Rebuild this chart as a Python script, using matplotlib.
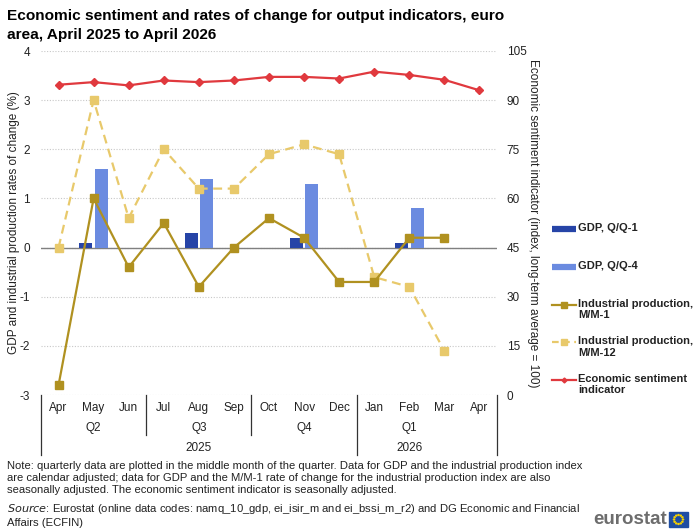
import numpy as np
import matplotlib.pyplot as plt
from matplotlib.lines import Line2D
from matplotlib.patches import Rectangle, Circle
from matplotlib.transforms import blended_transform_factory

plt.rcParams['font.family'] = ['Liberation Sans', 'DejaVu Sans']
plt.rcParams['axes.unicode_minus'] = False

#%% data
months = ['Apr', 'May', 'Jun', 'Jul', 'Aug', 'Sep', 'Oct', 'Nov', 'Dec', 'Jan', 'Feb', 'Mar', 'Apr']
quarters = ['Q2', 'Q3', 'Q4', 'Q1']
years = ['2025', '2026']
nan = np.nan
gdp_qq1 = [nan, 0.1, nan, nan, 0.3, nan, nan, 0.2, nan, nan, 0.1, nan, nan]
gdp_qq4 = [nan, 1.6, nan, nan, 1.4, nan, nan, 1.3, nan, nan, 0.8, nan, nan]
ip_mm1 = [-2.8, 1.0, -0.4, 0.5, -0.8, 0.0, 0.6, 0.2, -0.7, -0.7, 0.2, 0.2, nan]
ip_mm12 = [0.0, 3.0, 0.6, 2.0, 1.2, 1.2, 1.9, 2.1, 1.9, -0.6, -0.8, -2.1, nan]
esi = [94.7, 95.5, 94.5, 96.0, 95.5, 96.0, 97.1, 97.1, 96.6, 98.7, 97.7, 96.2, 93.0]

c_dark = '#2644A7'
c_light = '#6B8BE0'
c_ip1 = '#B09120'
c_ip12 = '#E8C96B'
c_esi = '#E0393E'
txt = '#222222'

#%% figure
fig = plt.figure(figsize=(7, 5.32), dpi=100)
W, H = 700, 532
ax = fig.add_axes([41 / W, 1 - 395 / H, (497 - 41) / W, (395 - 51) / H])
ax2 = ax.twinx()

x = np.arange(len(months))
ax.bar(x - 0.22, gdp_qq1, width=0.37, color=c_dark, zorder=3)
ax.bar(x + 0.22, gdp_qq4, width=0.37, color=c_light, zorder=3)
ax.plot(x, ip_mm12, color=c_ip12, lw=1.6, ls=(0, (4, 2.5)), marker='s', ms=6, zorder=4)
ax.plot(x, ip_mm1, color=c_ip1, lw=1.6, marker='s', ms=6, zorder=5)
ax2.plot(x, esi, color=c_esi, lw=1.6, marker='D', ms=4.5, zorder=5)

ax.set_xlim(-0.5, len(months) - 0.5)
ax.set_ylim(-3, 4)
ax.set_yticks(range(-3, 5))
ax2.set_ylim(0, 105)
ax2.set_yticks(range(0, 106, 15))
ax.grid(axis='y', linestyle=(0, (1, 1.5)), color='#c8c8c8', lw=0.8, zorder=0)
ax.axhline(0, color='#808080', lw=1.0, zorder=2)
for a in (ax, ax2):
    for s in a.spines.values():
        s.set_visible(False)
    a.tick_params(length=0, labelsize=8.5, labelcolor=txt)
ax.tick_params(axis='y', pad=8)
ax2.tick_params(axis='y', pad=7)
ax.set_xticks([])

ax.set_ylabel('GDP and industrial production rates of change (%)', fontsize=8.5, color=txt, labelpad=-0.5)
ax2.set_ylabel('Economic sentiment indicator (index, long-term average = 100)',
               fontsize=8.5, color=txt, rotation=270, labelpad=9)

# category axis: months, quarters, years
tr = blended_transform_factory(ax.transData, ax.transAxes)
for i, m in enumerate(months):
    ax.text(i, -0.038, m, transform=tr, ha='center', va='center', fontsize=8.5, color=txt)
for q, pos in zip(quarters, [1, 4, 7, 10]):
    ax.text(pos, -0.096, q, transform=tr, ha='center', va='center', fontsize=8.5, color=txt)
for yr, pos in zip(years, [4, 10]):
    ax.text(pos, -0.154, yr, transform=tr, ha='center', va='center', fontsize=8.5, color=txt)
for xs, y_end in [(-0.5, -0.174), (2.5, -0.116), (5.5, -0.116), (8.5, -0.174), (12.5, -0.174)]:
    ax.add_line(Line2D([xs, xs], [0, y_end], transform=tr, color='#333333', lw=0.9, clip_on=False))

# title
fig.text(7 / W, 1 - 25.5 / H, 'Economic sentiment and rates of change for output indicators, euro\n'
         'area, April 2025 to April 2026', ha='left', va='center', fontsize=11.1,
         fontweight='bold', color='black', linespacing=1.5)

# legend drawn by hand so handles align with the first text line
leg = [
    ('GDP, Q/Q-1', dict(color=c_dark, lw=4.5, solid_capstyle='butt')),
    ('GDP, Q/Q-4', dict(color=c_light, lw=4.5, solid_capstyle='butt')),
    ('Industrial production,\nM/M-1', dict(color=c_ip1, lw=1.6, marker='s', ms=4)),
    ('Industrial production,\nM/M-12', dict(color=c_ip12, lw=1.6, ls=(0, (3, 2)), marker='s', ms=4)),
    ('Economic sentiment\nindicator', dict(color=c_esi, lw=1.6, marker='D', ms=2.5)),
]
for k, (lab, st) in enumerate(leg):
    yf = 1 - (229 + 37.8 * k) / H
    line_st = {kk: v for kk, v in st.items() if kk not in ('marker', 'ms')}
    fig.add_artist(Line2D([552 / W, 576 / W], [yf, yf], transform=fig.transFigure, **line_st))
    if 'marker' in st:
        fig.add_artist(Line2D([564 / W], [yf], transform=fig.transFigure, color=st['color'],
                              marker=st['marker'], ms=st['ms'], ls='none'))
    fig.text(578 / W, yf + 6 / H, lab, ha='left', va='top', fontsize=8, fontweight='bold',
             color=txt, linespacing=1.15)

# notes
fig.text(7 / W, 1 - 461 / H,
         'Note: quarterly data are plotted in the middle month of the quarter. Data for GDP and the industrial production index\n'
         'are calendar adjusted; data for GDP and the M/M-1 rate of change for the industrial production index are also\n'
         'seasonally adjusted. The economic sentiment indicator is seasonally adjusted.',
         ha='left', va='top', fontsize=8.1, color=txt, linespacing=1.22)
fig.text(7 / W, 1 - 502 / H,
         r'$\it{Source}$' + ': Eurostat (online data codes: namq_10_gdp, ei_isir_m and ei_bssi_m_r2) and DG Economic and Financial\n'
         'Affairs (ECFIN)', ha='left', va='top', fontsize=8.1, color=txt, linespacing=1.22)

# eurostat logo
fig.text(667 / W, 1 - 519 / H, 'eurostat', ha='right', va='center', fontsize=13.5,
         fontweight='bold', color='#6d6d6d')
fig.add_artist(Rectangle((669 / W, 1 - 527 / H), 19 / W, 15 / H, transform=fig.transFigure,
                         color='#1f4ea3'))
for a in np.linspace(0, 2 * np.pi, 12, endpoint=False):
    fig.add_artist(Circle(((678.5 + 4.5 * np.cos(a)) / W, (1 - 519.5 / H) + 4.5 * np.sin(a) / H),
                          0.6 / W, transform=fig.transFigure, color='#f5d000'))

fig.savefig('out.png', dpi=100)
